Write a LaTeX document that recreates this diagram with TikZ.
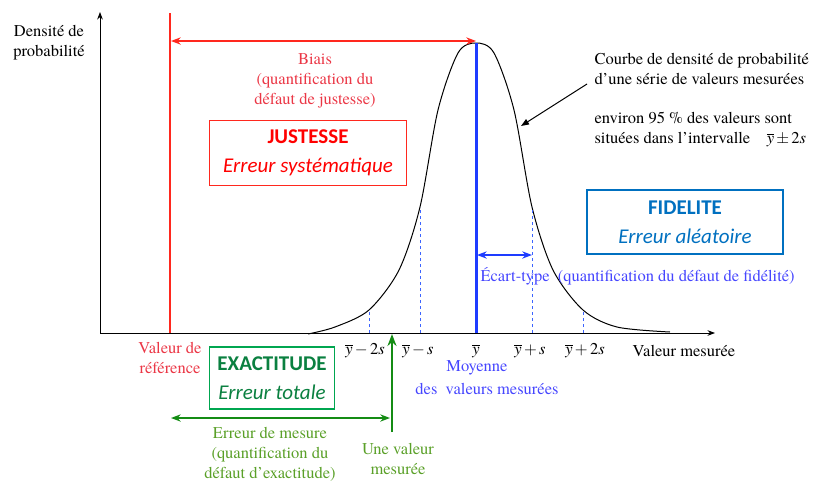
\documentclass[tikz,border=0pt]{standalone}
\usepackage{mathptmx}
\usepackage[no-math]{fontspec}
\setmainfont{texgyretermes-regular.otf}[Ligatures=TeX,
  BoldFont=texgyretermes-bold.otf,ItalicFont=texgyretermes-italic.otf]
\newfontfamily\calibri{Carlito}
\usetikzlibrary{arrows.meta,positioning}

\definecolor{redline}{RGB}{255,40,30}
\definecolor{redtxt}{RGB}{235,55,70}
\definecolor{blueline}{RGB}{30,60,255}
\definecolor{bluedash}{RGB}{60,100,255}
\definecolor{bluetxt}{RGB}{70,70,255}
\definecolor{fidblue}{RGB}{0,112,192}
\definecolor{greenbox}{RGB}{0,166,80}
\definecolor{greendark}{RGB}{10,128,64}
\definecolor{greenarrow}{RGB}{20,140,20}
\definecolor{olive}{RGB}{90,160,40}

\begin{document}
\begin{tikzpicture}[x=1pt,y=-1pt,>=Stealth,font=\rmfamily\fontsize{16.5}{20}\selectfont,
    boxlab/.style={draw,line width=1.3pt,align=center,inner sep=0pt,
      font=\calibri\fontsize{21}{29}\selectfont},
    dashline/.style={draw=bluedash,dashed,line width=0.8pt}]
  \useasboundingbox (0,0) rectangle (815,482);

  % axes
  \coordinate (O) at (100,333);
  \coordinate (ytip) at (100,12);
  \coordinate (xtip) at (715,333);
  \draw[->,line width=1pt] (O) -- (ytip);
  \draw[->,line width=1pt] (O) -- (xtip);
  \node (ylab) [align=center] at (49,43) {Densité de\\probabilité};
  \node (xlab) at (684,351) {Valeur mesurée};

  % density curve
  \draw[line width=1pt] plot[smooth] coordinates {(308,334) (335,327) (369,310)
    (399,270) (420,207) (438,110) (458,53) (476,43) (494,53) (514,110)
    (532,207) (553,270) (583,310) (617,327) (670,332)};

  % dashed lines at +-s, +-2s
  \foreach \n/\x/\t in {m2/369/310, m1/420/207, p1/532/207, p2/583/310} {
    \coordinate (\n bot) at (\x,333);
    \coordinate (\n top) at (\x,\t);
    \draw[dashline] (\n bot) -- (\n top);
  }
  \node (lm2) at (365,351) {$\overline{y}-2s$};
  \node (lm1) at (418,351) {$\overline{y}-s$};
  \node (l0)  at (476,351) {$\overline{y}$};
  \node (lp1) at (530,351) {$\overline{y}+s$};
  \node (lp2) at (585,351) {$\overline{y}+2s$};

  % reference value and bias
  \coordinate (refbot) at (170,333);
  \coordinate (reftop) at (170,13);
  \draw[redline,line width=2.2pt] (refbot) -- (reftop);
  \coordinate (biaisL) at (171,41);
  \coordinate (biaisR) at (476,41);
  \draw[<->,redline,line width=1.5pt] (biaisL) -- (biaisR);
  \node (biais) [align=center,text=redtxt] at (315,81)
    {Biais\\(quantification du\\défaut de justesse)};
  \node (just) [boxlab,draw=redline,text=red,minimum width=197pt,
    minimum height=65pt] at (308,153)
    {\textbf{JUSTESSE}\\\textit{Erreur systématique}};
  \node (ref) [align=center,text=redtxt] at (170,358) {Valeur de\\référence};

  % mean
  \coordinate (mean) at (476,333);
  \coordinate (peak) at (476,43);
  \draw[blueline,line width=3pt] (mean) -- (peak);
  \node (moy) [text=bluetxt] at (477,368) {Moyenne};
  \node (moydes) [text=bluetxt] at (487,389) {des\ \ valeurs mesurées};

  % standard deviation
  \coordinate (ecL) at (477,255);
  \coordinate (ecR) at (532,255);
  \draw[<->,blueline,line width=1.5pt] (ecL) -- (ecR);
  \node (ecart) [anchor=west,text=bluetxt] at (477,276)
    {Écart-type\ \ (quantification du défaut de fidélité)};
  \node (fid) [boxlab,draw=fidblue,text=fidblue,minimum width=196pt,
    minimum height=64pt] at (685,222)
    {\textbf{FIDELITE}\\\textit{Erreur aléatoire}};

  % curve label
  \node (courbe) [anchor=west,align=left] at (591,69)
    {Courbe de densité de probabilité\\d'une série de valeurs mesurées};
  \node (environ) [anchor=west,align=left] at (591,130)
    {environ 95~\% des valeurs sont\\situées dans l'intervalle\quad$\overline{y}\pm 2s$};
  \coordinate (ctail) at (587,84);
  \coordinate (cpt) at (521,126);
  \draw[-{Triangle[length=8pt,width=6pt]},line width=1pt] (ctail) -- (cpt);

  % measured value and total error
  \coordinate (valbot) at (392,432);
  \coordinate (valtop) at (392,334);
  \draw[->,greenarrow,line width=2pt] (valbot) -- (valtop);
  \coordinate (errL) at (171,418);
  \coordinate (errR) at (390,418);
  \draw[<->,greenarrow,line width=1.5pt] (errL) -- (errR);
  \node (exact) [boxlab,draw=greenbox,text=greendark,minimum width=125pt,
    minimum height=62pt] at (272,378)
    {\textbf{EXACTITUDE}\\\textit{Erreur totale}};
  \node (errmes) [align=center,text=olive] at (270,454)
    {Erreur de mesure\\(quantification du\\défaut d'exactitude)};
  \node (uneval) [align=center,text=olive] at (398,459) {Une valeur\\mesurée};
\end{tikzpicture}
\end{document}
